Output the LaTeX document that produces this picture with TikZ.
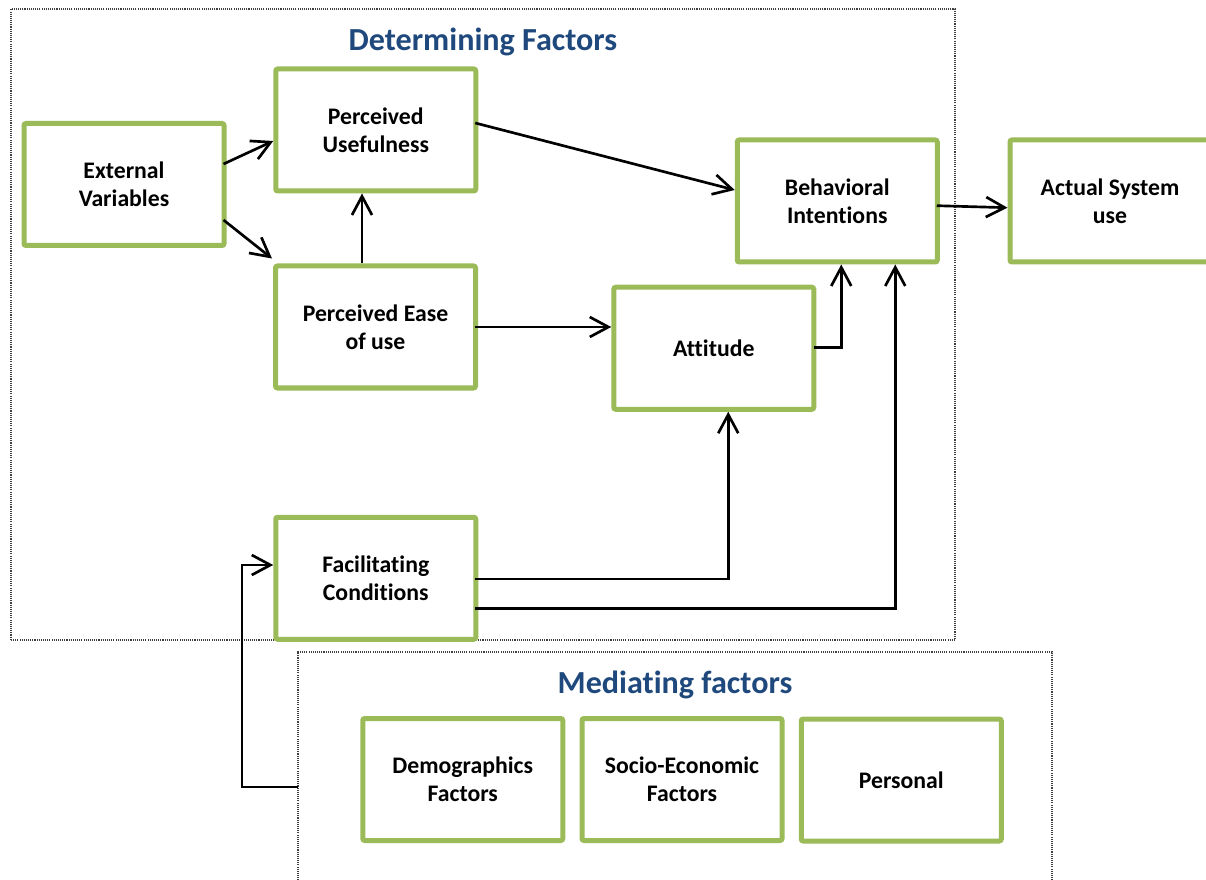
\documentclass[tikz,border=0pt]{standalone}
\usepackage{fontspec}
\setmainfont[Ligatures=NoCommon]{Carlito}
\usetikzlibrary{arrows.meta,calc}
\definecolor{boxgreen}{HTML}{9BBB59}
\definecolor{titleblue}{RGB}{31,73,125}
\begin{document}
\begin{tikzpicture}[x=0.75pt,y=-0.75pt,
  factor/.style={draw=boxgreen,line width=3.75pt,rounded corners=1.5pt,fill=white,
    minimum width=150pt,minimum height=91.5pt,inner sep=0pt,align=center,
    font=\bfseries\fontsize{17.8}{21}\selectfont},
  frame/.style={draw=black!75,line width=0.8pt,dash pattern=on 0.8pt off 0.8pt,
    inner sep=0pt,outer sep=0pt},
  heading/.style={text=titleblue,font=\bfseries\fontsize{24.1}{28}\selectfont},
  link/.style={draw=black,line width=2pt,-{Straight Barb[length=14pt,width=15pt,line width=2pt]}}]
\useasboundingbox (0,0) rectangle (1206,880);
\clip (0,0) rectangle (1206,880);

% dotted group frames
\node[frame,minimum width=708pt,minimum height=473.25pt] (detframe) at (483,324.5) {};
\node[frame,minimum width=565.5pt,minimum height=202.5pt] (medframe) at (675,787) {};
\node[heading] (dettitle) at (483,42) {Determining Factors};
\node[heading] (medtitle) at (675,685) {Mediating factors};

% factor boxes
\node[factor] (ext)  at (124,184.5)    {External\\Variables};
\node[factor] (pu)   at (375.75,130)   {Perceived\\Usefulness};
\node[factor] (peou) at (375.5,327)    {Perceived Ease\\of use};
\node[factor] (att)  at (713.75,348.25){Attitude};
\node[factor] (bi)   at (837.25,201)   {Behavioral\\Intentions};
\node[factor] (asu)  at (1110,201)     {Actual System\\use};
\node[factor] (fc)   at (375.75,578.25){Facilitating\\Conditions};
\node[factor] (dem)  at (462.75,779.5) {Demographics\\Factors};
\node[factor] (soc)  at (682,779.5)    {Socio-Economic\\Factors};
\node[factor] (per)  at (901.25,780)   {Personal};

% connectors
\draw[link] ($(ext.east)+(-3,-20.5)$) -- ($(pu.west)+(0,11)$);
\draw[link] ($(ext.east)+(-3,35.5)$) -- ($(peou.north west)+(-1,-5)$);
\draw[link] ($(peou.north)+(-13.5,0)$) -- ($(pu.south)+(-13.75,0)$);
\draw[link] ($(pu.east)+(-3,-7)$) -- ($(bi.west)+(0,-11)$);
\draw[link] ($(peou.east)+(-3,0)$) -- (peou.east -| att.west);
\draw[link] ($(att.east)+(-2.5,-1)$) -| ($(bi.south)+(4,0)$);
\draw[link] ($(fc.east)+(-3,0.75)$) -| ($(att.south)+(14.5,0)$);
\draw[link] ($(fc.east)+(-3,30.5)$) -| ($(bi.south)+(58,0)$);
\draw[link] ($(bi.east)+(-3,4.7)$) -- ($(asu.west)+(0,6.7)$);
\draw[link] (medframe.west) -- ++(-56,0) |- ($(fc.west)+(0,-13.25)$);
\end{tikzpicture}
\end{document}
